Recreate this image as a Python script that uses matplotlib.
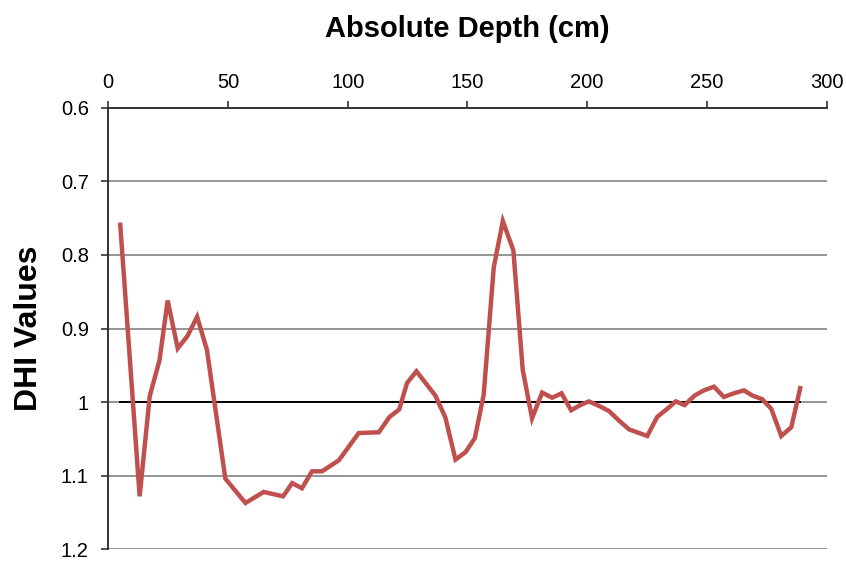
import matplotlib
matplotlib.use("Agg")
import matplotlib.pyplot as plt

plt.rcParams['font.family'] = ['Liberation Sans', 'DejaVu Sans']

depth = [5.0, 13.1, 17.3, 21.4, 24.8, 29.0, 33.1, 37.1, 41.2, 48.9, 57.3, 64.9,
         73.0, 76.8, 80.9, 85.1, 89.3, 96.3, 104.6, 113.0, 117.5, 121.5, 124.8,
         128.7, 136.6, 140.8, 145.0, 149.2, 153.1, 156.8, 161.0, 164.8, 169.2,
         173.1, 177.0, 181.2, 185.4, 189.3, 193.3, 197.2, 200.7, 204.9, 209.1,
         213.3, 217.5, 225.1, 229.3, 233.5, 237.0, 240.7, 244.9, 248.8, 253.0,
         257.1, 261.3, 265.5, 269.0, 273.1, 276.9, 281.1, 285.3, 289.0]
dhi = [0.759, 1.128, 0.992, 0.943, 0.862, 0.927, 0.910, 0.884, 0.929, 1.104,
       1.137, 1.122, 1.128, 1.110, 1.117, 1.094, 1.094, 1.079, 1.042, 1.041,
       1.020, 1.010, 0.974, 0.958, 0.991, 1.021, 1.078, 1.068, 1.049, 0.990,
       0.817, 0.754, 0.794, 0.956, 1.022, 0.987, 0.994, 0.988, 1.011, 1.004,
       0.999, 1.005, 1.012, 1.025, 1.037, 1.046, 1.020, 1.009, 0.999, 1.004,
       0.991, 0.984, 0.979, 0.993, 0.988, 0.984, 0.991, 0.996, 1.009, 1.046,
       1.034, 0.981]

baseline_depth = [5.0, 289.0]
baseline_value = [1.0, 1.0]

x_ticks = [0, 50, 100, 150, 200, 250, 300]
x_tick_labels = ["0", "50", "100", "150", "200", "250", "300"]
y_ticks = [0.6, 0.7, 0.8, 0.9, 1.0, 1.1, 1.2]
y_tick_labels = ["0.6", "0.7", "0.8", "0.9", "1", "1.1", "1.2"]

fig = plt.figure(figsize=(8.46, 5.64), dpi=100)
ax = fig.add_axes([0.128, 0.026, 0.849, 0.783])

for yv in y_ticks[1:]:
    ax.axhline(yv, color="#8c8c8c", lw=1.3, zorder=1)

ax.plot(baseline_depth, baseline_value, color="black", lw=1.4, zorder=2)
ax.plot(depth, dhi, color="#C0504D", lw=3.2, zorder=3, solid_joinstyle="miter")

ax.set_xlim(0, 300)
ax.set_ylim(1.2, 0.6)
ax.xaxis.tick_top()
ax.xaxis.set_label_position("top")
ax.set_xticks(x_ticks)
ax.set_xticklabels(x_tick_labels)
ax.set_yticks(y_ticks)
ax.set_yticklabels(y_tick_labels)

for s in ["right", "bottom"]:
    ax.spines[s].set_visible(False)
for s in ["top", "left"]:
    ax.spines[s].set_color("#333333")
    ax.spines[s].set_linewidth(1.4)

ax.tick_params(axis="x", direction="out", length=5, width=1.2, colors="#333333",
               labelsize=14.5, labelcolor="black", pad=6)
ax.tick_params(axis="y", direction="out", length=5, width=1.2, colors="#333333",
               labelsize=14.5, labelcolor="black", pad=9)

ax.set_xlabel("Absolute Depth (cm)", fontsize=21, fontweight="bold", labelpad=26)
ax.set_ylabel("DHI Values", fontsize=23, fontweight="bold", labelpad=12)

fig.savefig("out.png", dpi=100)
